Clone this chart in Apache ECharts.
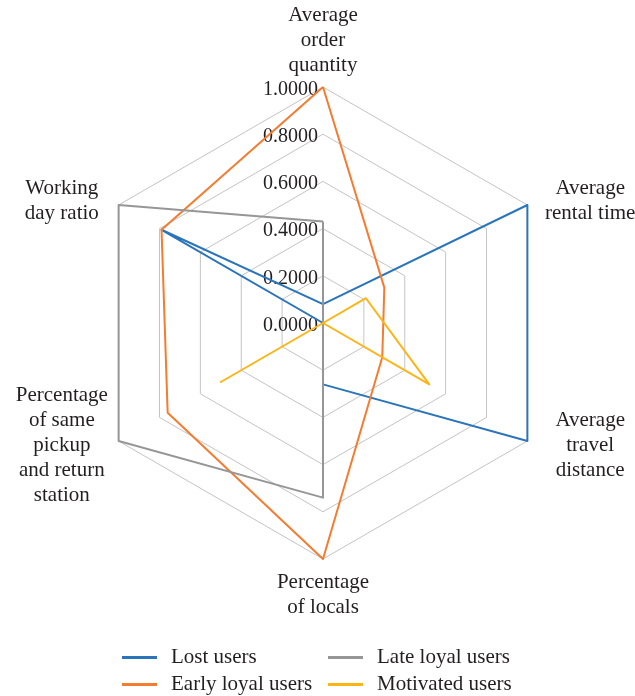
<!DOCTYPE html>
<html>
<head>
<meta charset="utf-8">
<script src="https://cdn.jsdelivr.net/npm/echarts@6/dist/echarts.min.js"></script>
<style>
html,body{margin:0;padding:0;background:#fff;}
#chart{width:635px;height:696px;}
</style>
</head>
<body>
<div id="chart"></div>
<script>
// Indicators, listed counter-clockwise from the top (ECharts radar order)
var indicatorNames = [
  "Average\norder\nquantity",
  "Working\nday ratio",
  "Percentage\nof same\npickup\nand return\nstation",
  "Percentage\nof locals",
  "Average\ntravel\ndistance",
  "Average\nrental time"
];
var seriesNames = ["Lost users", "Early loyal users", "Late loyal users", "Motivated users"];
// values in indicator order above
var lostUsers        = [0.08, 0.79, 0.00, 0.26, 1.00, 1.00];
var earlyLoyalUsers  = [1.00, 0.79, 0.76, 1.00, 0.29, 0.30];
var lateLoyalUsers   = [0.43, 1.00, 1.00, 0.74, 0.00, 0.00];
var motivatedUsers   = [0.00, 0.00, 0.50, 0.00, 0.52, 0.21];
var seriesColors = ["#2a74bb", "#f47c30", "#969696", "#fdb515"];

var FONT = "Liberation Serif";
var TXT = "#231f20";

var indicators = indicatorNames.map(function (n, i) {
  var ind = { name: n, min: 0, max: 1 };
  if (i === 0) {
    ind.axisLabel = {
      show: true, color: TXT, fontFamily: FONT, fontSize: 20, margin: 5,
      formatter: function (v) { return '{v|' + Number(v).toFixed(4) + '}'; },
      rich: { v: { fontFamily: FONT, fontSize: 20, color: TXT, padding: [5, 0, 0, 0] } }
    };
  }
  return ind;
});
var leftSide = { "Working\nday ratio": 1, "Percentage\nof same\npickup\nand return\nstation": 1 };

var allValues = [lostUsers, earlyLoyalUsers, lateLoyalUsers, motivatedUsers];
var chart = echarts.init(document.getElementById('chart'));
var nameStyle = { fontFamily: FONT, fontSize: 21, lineHeight: 25, color: TXT, align: 'center' };
chart.setOption({
  animation: false,
  backgroundColor: '#fff',
  radar: {
    center: [323, 323],
    radius: 236,
    startAngle: 90,
    splitNumber: 5,
    shape: 'polygon',
    nameGap: 9,
    axisName: {
      formatter: function (name) {
        var key = leftSide[name] ? 'l' : (name === "Percentage\nof locals" ? 'b' : 'a');
        return name.split('\n').map(function (l) { return '{' + key + '|' + l + '}'; }).join('\n');
      },
      rich: {
        a: Object.assign({ width: 110 }, nameStyle),
        l: Object.assign({ width: 98 }, nameStyle),
        b: Object.assign({ width: 110, padding: [3, 0, 0, 0] }, nameStyle)
      }
    },
    axisLine: { show: false },
    axisTick: { show: false },
    axisLabel: { show: false },
    splitLine: { lineStyle: { color: '#c4c4c4', width: 1 } },
    splitArea: { show: false },
    indicator: indicators
  },
  legend: [
    {
      orient: 'vertical', left: 117, top: 642, height: 80, icon: 'rect', itemWidth: 35, itemHeight: 3, itemGap: 6,
      data: [seriesNames[0], seriesNames[1]],
      textStyle: { fontFamily: FONT, fontSize: 21, lineHeight: 20, color: TXT, padding: [0, 0, 0, 9] }
    },
    {
      orient: 'vertical', left: 323, top: 642, height: 80, icon: 'rect', itemWidth: 35, itemHeight: 3, itemGap: 6,
      data: [seriesNames[2], seriesNames[3]],
      textStyle: { fontFamily: FONT, fontSize: 21, lineHeight: 20, color: TXT, padding: [0, 0, 0, 9] }
    }
  ],
  series: seriesNames.map(function (name, i) {
    return {
      type: 'radar',
      name: name,
      symbol: 'none',
      color: seriesColors[i],
      lineStyle: { width: 2, color: seriesColors[i] },
      itemStyle: { color: seriesColors[i] },
      data: [{ value: allValues[i], name: name }]
    };
  })
});
</script>
</body>
</html>
